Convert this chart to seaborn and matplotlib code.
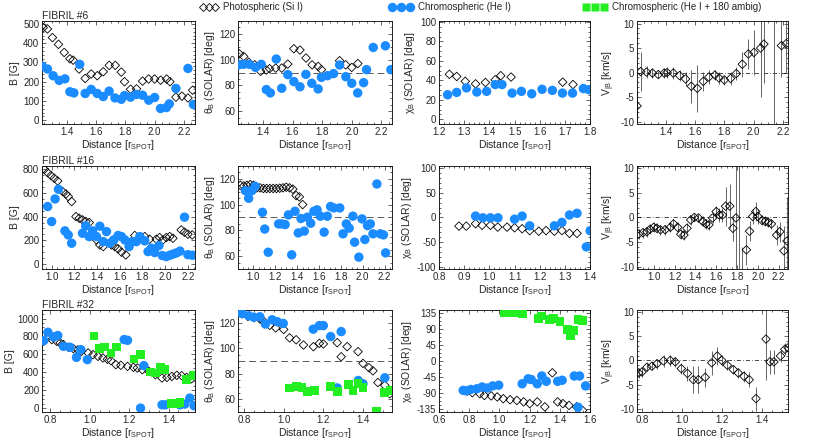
import numpy as np
import matplotlib
matplotlib.use('Agg')
import matplotlib.pyplot as plt
import seaborn as sns
from matplotlib.lines import Line2D
from matplotlib.ticker import MultipleLocator, AutoMinorLocator, FormatStrFormatter

nan = np.nan

# ---------------- FIBRIL #6 ----------------
f6_x_phot = [1.241, 1.270, 1.304, 1.345, 1.384, 1.423, 1.445, 1.486, 1.527, 1.568, 1.609, 1.650, 1.691, 1.732,
             1.773, 1.795, 1.836, 1.877, 1.918, 1.959, 2.000, 2.041, 2.082, 2.104, 2.145, 2.186, 2.227, 2.259]
f6_B_phot = [481, 474, 429, 394, 352, 319, 312, 266, 217, 240, 231, 252, 285, 285,
             250, 200, 161, 163, 203, 214, 214, 208, 214, 200, 120, 125, 116, 156]
f6_theta_phot = [104.5, 102.5, 98, 96, 91, 92, 93, 93.5, 93.5, 96.6, 108.5, 107.5, 101.3, 96,
                 94.8, 92.3, nan, nan, 99.2, 96, 94, 97, nan, nan, nan, nan, nan, nan]
f6_chi_phot = [46.2, 44, 39, 36.4, 37.8, 40.6, 44.8, 43.4, nan, nan, nan, nan, 38.1, 35.7,
               nan, nan, nan, nan, nan, nan, nan, nan, nan, nan, nan, nan, nan, nan]

f6_x_chrom = [1.234, 1.270, 1.309, 1.350, 1.389, 1.423, 1.450, 1.490, 1.527, 1.568, 1.609, 1.650, 1.690, 1.730,
              1.773, 1.795, 1.836, 1.877, 1.918, 1.960, 2.000, 2.040, 2.080, 2.100, 2.145, 2.227, 2.264]
f6_B_chrom = [281, 266, 231, 207, 215, 148, 142, 290, 139, 160, 139, 123, 151, 116,
              109, 128, 120, 134, 130, 104, 118, 61, 66, 85, 165, 269, 82]
f6_theta_chrom = [95.9, 96.4, 96.4, 94, 96.4, 76.8, 74.2, 100.5, 77.8, 88.4, 83, 79, 88.6, 81.7,
                  77.3, 86.3, 87.6, 89.2, 95.9, 86.8, 81.7, 74.2, 82.2, 92.3, 109.5, 110.8, 92.3]
f6_chi_chrom = [25.2, 27.6, 32.2, 28, 28.7, 35.7, 35.7, 26.9, 28.7, 26.2, 30.8, 29.7, 26.9, 26.9,
                31.5, 30.4, nan, nan, nan, nan, nan, nan, nan, nan, nan, nan, nan]

f6_x_vel = [1.205, 1.23, 1.27, 1.31, 1.35, 1.39, 1.41, 1.452, 1.495, 1.536, 1.575, 1.616, 1.657, 1.695,
            1.736, 1.764, 1.80, 1.843, 1.882, 1.923, 1.964, 2.002, 2.048, 2.07, 2.14, 2.19, 2.222]
f6_vel = [-6.8, 0.2, 0.1, -0.1, -0.4, -0.1, 0, -0.1, -0.6, -1.3, -2.8, -3.2, -1.8, -0.9,
          -0.5, -1.1, -1.5, -1.2, -0.2, 1.7, 3.8, 4.1, 5, 5.8, -12, 5.5, 5.9]
f6_vel_err = [3, 4, 1.2, 1, 0.8, 1, 1.2, 1.2, 1.2, 1.5, 3.4, 4.8, 2, 1.5,
              1, 1.3, 1, 1.3, 1.3, 2.5, 3, 4.5, 10, 8, 25, 6.5, 6]

# ---------------- FIBRIL #16 ----------------
f16_x_phot = [0.936, 0.965, 0.994, 1.023, 1.053, 1.097, 1.126, 1.146, 1.176, 1.214, 1.243, 1.272, 1.301,
              1.331, 1.366, 1.395, 1.424, 1.454, 1.527, 1.556, 1.585, 1.615, 1.653, 1.732, 1.776, 1.82,
              1.863, 1.922, 1.951, 1.98, 2.01, 2.04, 2.068, 2.141, 2.17, 2.2, 2.238]
f16_B_phot = [797, 769, 744, 722, 699, 610, 590, 568, 526, 400, 386, 372, 358,
              350, 260, 204, 162, 148, 162, 148, 129, 101, 78, 241, 218, 232,
              210, 210, 224, 204, 224, 232, 218, 288, 269, 252, 246]
f16_x_chrom = [0.965, 1.0, 1.03, 1.06, 1.117, 1.146, 1.176, 1.272, 1.30, 1.33, 1.36, 1.395, 1.424, 1.454,
               1.483, 1.512, 1.547, 1.585, 1.615, 1.645, 1.682, 1.711, 1.746, 1.776, 1.82, 1.849, 1.878,
               1.907, 1.945, 1.974, 2.01, 2.04, 2.07, 2.10, 2.13, 2.17, 2.20, 2.24]
f16_B_chrom = [484, 358, 548, 629, 280, 246, 176, 260, 322, 232, 280, 232, 319, 190,
               274, 176, 204, 241, 232, 204, 148, 190, 190, 232, 196, 106, 134,
               98, 157, 73, 64, 75, 85, 95, 110, 395, 80, 75]

f16_x_theta_phot = [0.88, 0.91, 0.94, 0.97, 1.0, 1.03, 1.06, 1.09, 1.12, 1.15, 1.18, 1.21, 1.24, 1.27,
                    1.30, 1.33, 1.36, 1.39, 1.42, 1.45]
f16_theta_phot = [115, 114.5, 115, 115.5, 115, 113, 113, 112.5, 112.5, 112.5, 112.5, 112.5, 112.7, 113,
                  113.5, 113, 112, 107, 106, 100]
f16_x_theta_chrom = [0.926, 0.956, 0.985, 1.015, 1.082, 1.103, 1.135, 1.23, 1.26, 1.29, 1.32, 1.35, 1.38,
                     1.41, 1.435, 1.465, 1.494, 1.524, 1.553, 1.582, 1.612, 1.647, 1.676, 1.706, 1.735,
                     1.79, 1.82, 1.85, 1.876, 1.91, 1.926, 1.965, 1.994, 2.02, 2.044, 2.07, 2.094, 2.13,
                     2.16, 2.19, 2.21]
f16_theta_chrom = [110.8, 104.9, 110.8, 114.2, 94, 81, 63, 85, 85, 84.5, 92, 61, 94.8,
                   78, 89.2, 79.4, 90.2, 85.5, 94.8, 95.9, 91, 78.6, 91, 98.5, 97.4,
                   97.4, 77.3, 85, 81.7, 91, 70.8, 59.2, 88.9, 72.9, 83.7, 85, 77.3, 116,
                   77.3, 76.5, 62.5]

f16_x_chi_phot = [0.879, 0.908, 0.945, 0.971, 1.004, 1.033, 1.07, 1.10, 1.13, 1.16, 1.196, 1.225, 1.258,
                  1.288, 1.318, 1.348]
f16_chi_phot = [-17.6, -17.6, -12.7, -16, -16, -19.7, -19.7, -21, -23, -26.8, -28, -26.8, -28,
                -26.8, -32.4, -32.4]
f16_x_chi_chrom = [0.945, 0.974, 1.004, 1.034, 1.10, 1.13, 1.16, 1.258, 1.288, 1.318, 1.348, 1.385, 1.40]
f16_chi_chrom = [2.8, -0.7, -0.7, -0.7, -3.5, 2.8, -17, -17, -10, 5, 8.5, -60, -27]

f16_x_vel = [0.855, 0.897, 0.935, 0.965, 1.0, 1.03, 1.065, 1.11, 1.16, 1.19, 1.23, 1.26, 1.29, 1.32, 1.355,
             1.39, 1.43, 1.47, 1.50, 1.53, 1.565, 1.60, 1.63, 1.66, 1.69, 1.73, 1.76, 1.79, 1.82, 1.85,
             1.89, 1.92, 1.95, 1.98, 2.0, 2.04, 2.07, 2.10, 2.13, 2.18, 2.21, 2.25, 2.28]
f16_vel = [-3.4, -3.1, -2.9, -2.4, -2.0, -2.2, -2.5, -2.5, -2.0, -1.3, -2.0, -3.4, -3.6, -2.2, -0.5,
           0, -0.1, -0.8, -1.3, -1.5, -0.1, 1.2, 0.5, 0.5, 2.3, 2.3, -2.2, -0.1, -14, -14,
           -6.6, -2.8, 0.2, 1.2, 0.2, -0.6, -0.8, -1.0, -1.3, -3.6, -2.9, -6.8, -4.8]
f16_vel_err = [1, 1, 1, 1, 1, 1, 1, 1, 1, 1, 1, 1, 1, 1, 1,
               0.8, 0.8, 1, 1, 1, 1, 1.2, 1.5, 1.5, 4, 4.5, 2.5, 25, 25, 8,
               3, 2, 1.5, 2, 1.5, 1, 1, 1, 1, 2, 2, 5, 9]

# ---------------- FIBRIL #32 ----------------
f32_x_phot = [0.783, 0.808, 0.833, 0.850, 0.867, 0.892, 0.917, 0.940, 0.958, 0.992, 1.017, 1.042, 1.067,
              1.090, 1.108, 1.133, 1.158, 1.192, 1.222, 1.242, 1.267, 1.30, 1.333, 1.367, 1.392, 1.417,
              1.442, 1.467, 1.492, 1.517]
f32_B_phot = [784, 765, 746, 728, 709, 679, 665, 650, 634, 616, 597, 578, 560,
              545, 530, 485, 478, 466, 455, 448, 429, 410, 373, 336, 343, 354,
              366, 362, 343, 328]
f32_x_chrom = [0.767, 0.788, 0.817, 0.838, 0.867, 0.90, 0.933, 0.955, 0.988, 1.175, 1.192, 1.258, 1.275,
               1.367, 1.383, 1.458, 1.483, 1.508, 1.53]
f32_B_chrom = [754, 847, 795, 810, 690, 679, 567, 653, 541, 765, 757, 0, 474,
               37, 37, 37, 45, 112, 26]
f32_x_amb = [1.022, 1.05, 1.075, 1.108, 1.138, 1.225, 1.258, 1.308, 1.333, 1.358, 1.38, 1.417, 1.442,
             1.458, 1.492, 1.525]
f32_B_amb = [806, 664, 683, 616, 683, 549, 597, 403, 392, 451, 429, 56, 45, 67, 321, 362]

f32_x_theta_phot = [0.79, 0.82, 0.85, 0.88, 0.90, 0.93, 0.96, 1.0, 1.03, 1.063, 1.10, 1.15, 1.18, 1.20,
                    1.27, 1.29, 1.32, 1.375, 1.40, 1.43, 1.45, 1.475, 1.51, 1.535]
f32_theta_phot = [127, 125, 124, 123, 121, 118, 116, 114.8, 108.2, 106.7, 102.6, 101.3, 103.9, 103.4,
                  104.4, 93.4, 101.3, 97.4, 88.2, 84.8, 82.4, 73.2, 71, 64.4]
f32_x_theta_chrom = [0.79, 0.824, 0.849, 0.88, 0.908, 0.942, 0.968, 0.998, 1.149, 1.18, 1.20, 1.237,
                     1.27, 1.29, 1.376, 1.40, 1.51]
f32_theta_chrom = [127.3, 125.5, 124.4, 124.7, 119, 122.4, 120.8, 119.5, 115, 117.8, 117.8, 109.2,
                   69, 113.1, 74.8, 72.2, 76.9]
f32_x_theta_amb = [1.03, 1.063, 1.092, 1.122, 1.156, 1.237, 1.273, 1.325, 1.35, 1.375, 1.40, 1.468,
                   1.51, 1.54]
f32_theta_amb = [69, 70, 69.3, 66.4, 66.7, 70.1, 66.1, 71.4, 67.2, 72.7, 69.6, 50.4, 65.6, 66.9]

f32_x_chi_phot = [0.79, 0.82, 0.87, 0.90, 0.945, 0.985, 1.025, 1.07, 1.115, 1.16, 1.20, 1.25, 1.30, 1.35,
                  1.385, 1.42, 1.46, 1.51, 1.55]
f32_chi_phot = [-84, -89, -92, -97, -98, -101, -106, -109, -111, -115, -120, -115, -129, -33,
                -115, -120, -125, -129, -139]
f32_x_chi_chrom = [0.76, 0.78, 0.81, 0.85, 0.885, 0.92, 0.955, 0.995, 1.15, 1.19, 1.21, 1.25, 1.28, 1.31,
                   1.385, 1.415, 1.495, 1.52, 1.53, 1.57]
f32_chi_chrom = [-82.5, -84, -80, -78, -73, -76, -70, -68, -64, -50, -52, -64, -42, -57,
                 -57, -54, -42, -130, -42, -70]
f32_x_chi_amb = [1.03, 1.08, 1.13, 1.15, 1.26, 1.28, 1.33, 1.36, 1.40, 1.45, 1.47, 1.49, 1.52, 1.55]
f32_chi_amb = [138, 136, 138, 135, 121, 127, 117, 119, 112.5, 89, 72, 86, 117, 114]

f32_x_vel = [0.783, 0.80, 0.825, 0.85, 0.875, 0.908, 0.942, 0.967, 0.997, 1.028, 1.058, 1.083, 1.117,
             1.15, 1.178, 1.20, 1.228, 1.258, 1.283, 1.312, 1.338, 1.372, 1.422, 1.442, 1.462, 1.495,
             1.517, 1.533]
f32_vel = [-2.6, -2.4, -1.4, -1.2, -0.7, -0.1, 0, -0.3, -1.7, -2.7, -4, -4, -3.5,
           -0.5, 0.9, 0, -1, -1.9, -2.6, -3.3, -4, -7.9, 4.4, -0.3, -0.3, 0.9,
           2.3, 2.6]
f32_vel_err = [1, 1, 0.8, 0.8, 1, 1.2, 1.2, 1, 1.2, 1.5, 2.8, 2.8, 2,
               2.5, 1.8, 1.2, 1, 1, 1, 1.2, 1.5, 2.5, 8.5, 2.5, 2.5, 1.2,
               1.2, 1.2]

BLUE = '#1a8cff'
GREEN = '#22ee22'
XLAB = 'Distance [r$_{SPOT}$]'

sns.set_style('ticks')
plt.rcParams['font.family'] = ['Liberation Sans', 'DejaVu Sans']
plt.rcParams['mathtext.default'] = 'regular'
plt.rcParams['font.size'] = 7


def phot(ax, x, y):
    sns.scatterplot(x=x, y=y, ax=ax, marker='D', s=19, color='black', facecolor='none',
                    edgecolor='black', linewidth=0.6, zorder=3)


def chrom(ax, x, y):
    sns.scatterplot(x=x, y=y, ax=ax, marker='o', s=46, color=BLUE, edgecolor='none', zorder=4)


def amb(ax, x, y):
    sns.scatterplot(x=x, y=y, ax=ax, marker='s', s=40, color=GREEN, edgecolor='none', zorder=5)


def vel(ax, x, v, err):
    ax.errorbar(x, v, yerr=err, fmt='none', ecolor='0.3', elinewidth=0.6, capsize=0, zorder=2)
    phot(ax, x, v)
    ax.axhline(0, color='black', lw=0.5, ls=(0, (6, 3, 1, 3)), zorder=1)


def style(ax, xlim, xstep, ylim, ystep, ylabel, yfmt='%d'):
    ax.set_xlim(xlim)
    ax.set_ylim(ylim)
    ax.xaxis.set_major_locator(MultipleLocator(xstep))
    ax.yaxis.set_major_locator(MultipleLocator(ystep))
    ax.xaxis.set_minor_locator(AutoMinorLocator())
    ax.yaxis.set_minor_locator(AutoMinorLocator())
    ax.xaxis.set_major_formatter(FormatStrFormatter('%.1f'))
    ax.yaxis.set_major_formatter(FormatStrFormatter(yfmt))
    ax.tick_params(which='both', direction='in', top=True, right=True, labelsize=7, pad=2)
    ax.tick_params(which='major', length=3, width=0.5)
    ax.tick_params(which='minor', length=1.5, width=0.5)
    for sp in ax.spines.values():
        sp.set_linewidth(0.6)
        sp.set_color('black')
    ax.set_xlabel(XLAB, fontsize=7.5, labelpad=1)
    ax.set_ylabel(ylabel, fontsize=7.5, labelpad=2)


fig = plt.figure(figsize=(8.3, 4.48), dpi=100)
lefts = [0.0506, 0.287, 0.529, 0.7675]
widths = [0.184, 0.1855, 0.182, 0.182]
bottoms = [0.723, 0.3996, 0.080]
heights = [0.23, 0.23, 0.228]
axes = [[fig.add_axes([lefts[c], bottoms[r], widths[c], heights[r]]) for c in range(4)] for r in range(3)]

B_LAB = 'B [G]'
TH_LAB = 'θ$_B$ (SOLAR) [deg]'
CHI_LAB = 'χ$_B$ (SOLAR) [deg]'
V_LAB = 'V$_{|B}$ [km/s]'

# row 1: fibril 6
ax = axes[0][0]
phot(ax, f6_x_phot, f6_B_phot)
chrom(ax, f6_x_chrom, f6_B_chrom)
style(ax, (1.233, 2.273), 0.2, (-20, 515), 100, B_LAB)
ax.set_title('FIBRIL #6', loc='left', pad=1.5, fontsize=7.5)

ax = axes[0][1]
ax.axhline(90, color='0.35', lw=0.7, ls=(0, (7, 4)), zorder=1)
phot(ax, f6_x_phot, f6_theta_phot)
chrom(ax, f6_x_chrom, f6_theta_chrom)
style(ax, (1.233, 2.273), 0.2, (50, 130), 20, TH_LAB)

ax = axes[0][2]
phot(ax, f6_x_phot, f6_chi_phot)
chrom(ax, f6_x_chrom, f6_chi_chrom)
style(ax, (1.2, 1.8), 0.1, (-5, 101), 20, CHI_LAB)

ax = axes[0][3]
vel(ax, f6_x_vel, f6_vel, f6_vel_err)
style(ax, (1.205, 2.235), 0.2, (-10.5, 10.5), 5, V_LAB)

# row 2: fibril 16
ax = axes[1][0]
phot(ax, f16_x_phot, f16_B_phot)
chrom(ax, f16_x_chrom, f16_B_chrom)
style(ax, (0.915, 2.26), 0.2, (-40, 825), 200, B_LAB)
ax.set_title('FIBRIL #16', loc='left', pad=1.5, fontsize=7.5)

ax = axes[1][1]
ax.axhline(90, color='0.35', lw=0.7, ls=(0, (7, 4)), zorder=1)
phot(ax, f16_x_theta_phot, f16_theta_phot)
chrom(ax, f16_x_theta_chrom, f16_theta_chrom)
style(ax, (0.86, 2.27), 0.2, (50, 130), 20, TH_LAB)

ax = axes[1][2]
phot(ax, f16_x_chi_phot, f16_chi_phot)
chrom(ax, f16_x_chi_chrom, f16_chi_chrom)
style(ax, (0.8, 1.4), 0.1, (-105, 105), 50, CHI_LAB)

ax = axes[1][3]
vel(ax, f16_x_vel, f16_vel, f16_vel_err)
style(ax, (0.84, 2.29), 0.2, (-10.5, 10.5), 5, V_LAB)

# row 3: fibril 32
ax = axes[2][0]
phot(ax, f32_x_phot, f32_B_phot)
chrom(ax, f32_x_chrom, f32_B_chrom)
amb(ax, f32_x_amb, f32_B_amb)
style(ax, (0.758, 1.533), 0.2, (-45, 1095), 200, B_LAB)
ax.set_title('FIBRIL #32', loc='left', pad=1.5, fontsize=7.5)

ax = axes[2][1]
ax.axhline(90, color='0.35', lw=0.7, ls=(0, (7, 4)), zorder=1)
phot(ax, f32_x_theta_phot, f32_theta_phot)
chrom(ax, f32_x_theta_chrom, f32_theta_chrom)
amb(ax, f32_x_theta_amb, f32_theta_amb)
style(ax, (0.771, 1.547), 0.2, (50, 130), 20, TH_LAB)

ax = axes[2][2]
phot(ax, f32_x_chi_phot, f32_chi_phot)
chrom(ax, f32_x_chi_chrom, f32_chi_chrom)
amb(ax, f32_x_chi_amb, f32_chi_amb)
style(ax, (0.6, 1.6), 0.2, (-144, 144), 45, CHI_LAB)

ax = axes[2][3]
vel(ax, f32_x_vel, f32_vel, f32_vel_err)
style(ax, (0.775, 1.533), 0.2, (-10.7, 10.4), 5, V_LAB)

# legend along the top
h_phot = Line2D([], [], marker='D', ls='none', mfc='none', mec='black', ms=4.2, mew=0.6)
h_chrom = Line2D([], [], marker='o', ls='none', mfc=BLUE, mec='none', ms=6.8)
h_amb = Line2D([], [], marker='s', ls='none', mfc=GREEN, mec='none', ms=6.3)
for h, lab, x0, hl in [(h_phot, 'Photospheric (Si I)', 0.241, 1.85),
                       (h_chrom, 'Chromospheric (He I)', 0.469, 2.45),
                       (h_amb, 'Chromospheric (He I + 180 ambig)', 0.703, 2.45)]:
    fig.legend([h], [lab], loc='center left', bbox_to_anchor=(x0, 0.984), numpoints=3,
               handlelength=hl, handletextpad=0.5, frameon=False, borderpad=0,
               borderaxespad=0, fontsize=7)

fig.savefig('out.png', dpi=100, facecolor='white')
